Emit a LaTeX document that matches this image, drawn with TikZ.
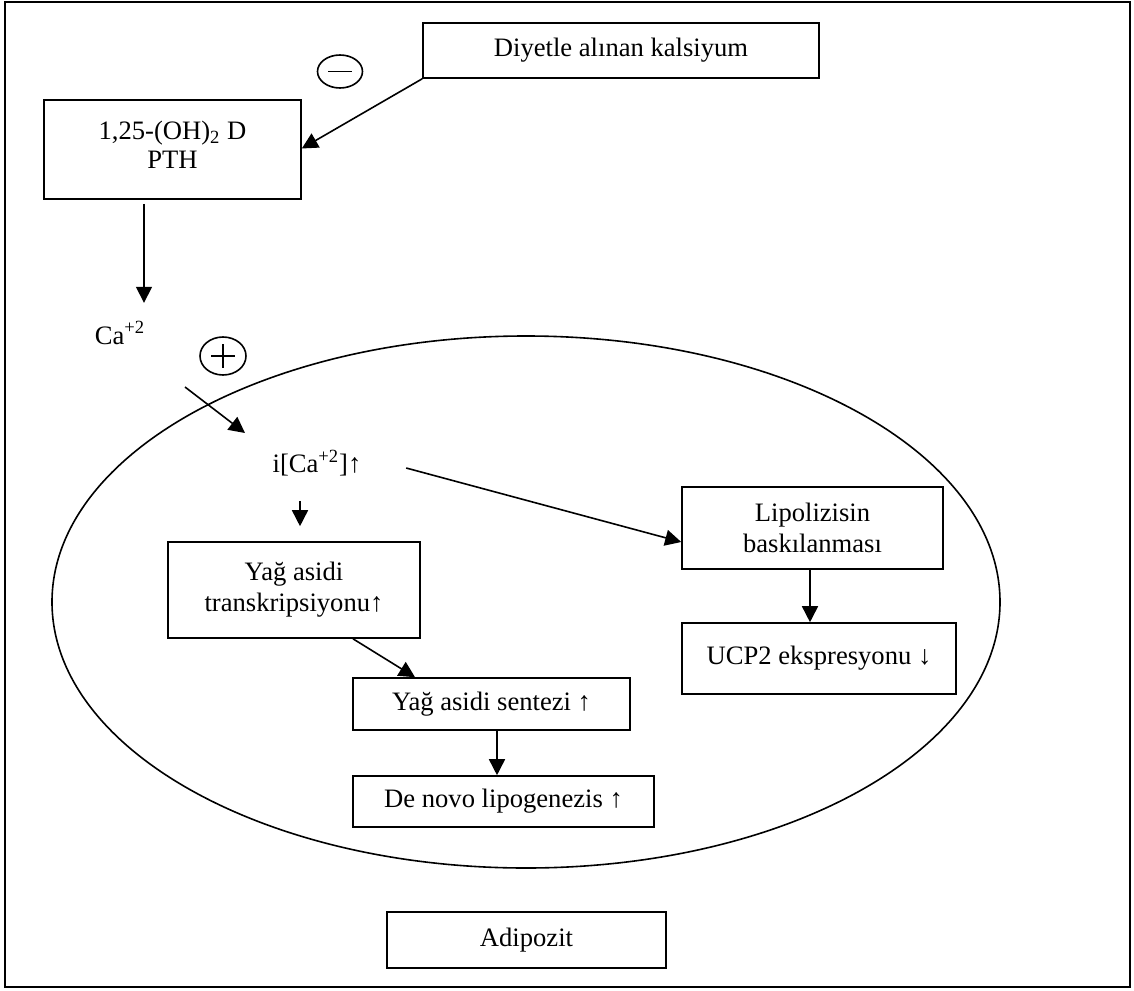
\documentclass[tikz,border=0pt]{standalone}
\usepackage{fontspec}
\setmainfont{Liberation Serif}
\usetikzlibrary{arrows.meta,calc,shapes.geometric}
\begin{document}
\begin{tikzpicture}[x=0.5pt,y=-0.5pt,
  font=\fontsize{13.3}{15.5}\selectfont,
  line width=0.8pt,
  box/.style={draw,rectangle,inner sep=0pt,align=center},
  lbl/.style={inner sep=0pt,align=center},
  sign/.style={draw,ellipse,inner sep=0pt},
  arr/.style={-{Triangle[length=8pt,width=8pt]}}]
\useasboundingbox (0,0) rectangle (1134,990);
\draw (5,2) rectangle (1130,987);
\draw (526,602) ellipse [x radius=474, y radius=266];

\node[box,minimum width=198pt,minimum height=27.5pt] (diet) at (621,50.5) {Diyetle alınan kalsiyum};
\node[box,minimum width=128.5pt,minimum height=49.5pt] (vitd) at (172.5,149.5) {\raisebox{5pt}{\shortstack{1,25-(OH)\textsubscript{2} D\\PTH}}};
\node[lbl] (ca) at (120,333) {Ca\textsuperscript{+2}};
\node[lbl] (ica) at (317,463) {i[Ca\textsuperscript{+2}]↑};
\node[box,minimum width=126pt,minimum height=48pt] (yagt) at (294,590) {Yağ asidi\\transkripsiyonu↑};
\node[box,minimum width=138.5pt,minimum height=26pt] (sent) at (491.5,704) {Yağ asidi sentezi ↑};
\node[box,minimum width=150.5pt,minimum height=25.5pt] (denovo) at (503.5,801.5) {De novo lipogenezis ↑};
\node[box,minimum width=130.5pt,minimum height=41pt] (lipo) at (812.5,528) {Lipolizisin\\baskılanması};
\node[box,minimum width=137pt,minimum height=35.5pt] (ucp) at (819,658.5) {\raisebox{2pt}{UCP2 ekspresyonu ↓}};
\node[box,minimum width=139.5pt,minimum height=28pt] (adip) at (526.5,940) {Adipozit};

\node[sign,minimum width=22.5pt,minimum height=16.5pt] (minus) at (340,71.5) {};
\draw (minus.center) ++(-12,0) -- ++(24,0);
\node[sign,minimum width=23pt,minimum height=19pt] (plus) at (223,356) {};
\draw (plus.center) ++(-12,0) -- ++(24,0);
\draw (plus.center) ++(0,-12) -- ++(0,24);

\coordinate (cain) at (185,387);
\coordinate (catip) at (245,433);

\draw[arr] (diet.south west) -- ([yshift=0.5pt]vitd.east);
\draw[arr] ([xshift=-14.25pt,yshift=-2pt]vitd.south) -- ([xshift=-14.25pt,yshift=-51.5pt]vitd.south);
\draw[arr] (cain) -- (catip);
\draw[arr] ([xshift=-8.5pt,yshift=-12pt]ica.south) -- ([xshift=3pt,yshift=7.5pt]yagt.north);
\draw[arr] ([xshift=22pt,yshift=-2.5pt]ica.east) -- ([yshift=-7pt]lipo.west);
\draw[arr] ([xshift=29.5pt]yagt.south) -- ([xshift=-38.25pt]sent.north);
\draw[arr] ([xshift=-1.25pt]lipo.south) -- ([xshift=-4.5pt]ucp.north);
\draw[arr] ([xshift=2.75pt]sent.south) -- ([xshift=-3.25pt]denovo.north);
\end{tikzpicture}
\end{document}
